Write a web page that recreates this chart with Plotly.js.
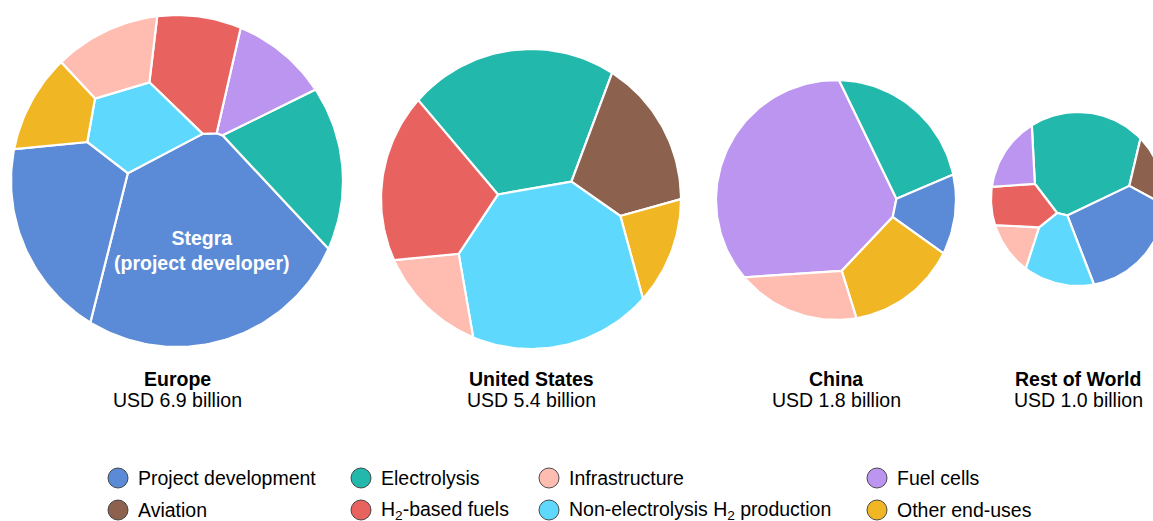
<!DOCTYPE html>
<html><head><meta charset="utf-8">
<script src="https://cdn.plot.ly/plotly-3.0.1.min.js"></script>
<style>html,body{margin:0;padding:0;background:#fff;overflow:hidden}#chart{width:1153px;height:521px}</style>
</head><body><div id="chart"></div>
<script>
// ================= DATA =================
const categories = ["Project development","Electrolysis","Infrastructure","Fuel cells","Aviation","H2-based fuels","Non-electrolysis H2 production","Other end-uses"];
const legendLabels = ["Project development","Electrolysis","Infrastructure","Fuel cells","Aviation","H<sub>2</sub>-based fuels","Non-electrolysis H<sub>2</sub> production","Other end-uses"];
const regions = ["Europe","United States","China","Rest of World"];
const regionTotals = [6.9, 5.4, 1.8, 1.0]; // USD billion

// cells of each region: category + value (USD billion)
const europeCells  = ["Project development","Project development","Electrolysis","Fuel cells","H2-based fuels","Non-electrolysis H2 production","Infrastructure","Other end-uses"];
const europeNames  = ["Stegra (project developer)","Project development","Electrolysis","Fuel cells","H2-based fuels","Non-electrolysis H2 production","Infrastructure","Other end-uses"];
const europeValues = [2.71, 1.12, 0.79, 0.43, 0.61, 0.50, 0.39, 0.35];

const usCells  = ["Electrolysis","Aviation","Other end-uses","Non-electrolysis H2 production","Infrastructure","H2-based fuels"];
const usValues = [1.44, 0.73, 0.26, 1.79, 0.27, 0.91];

const chinaCells  = ["Fuel cells","Electrolysis","Project development","Other end-uses","Infrastructure"];
const chinaValues = [1.04, 0.265, 0.12, 0.23, 0.145];

const rowCells  = ["Electrolysis","Aviation","Project development","Non-electrolysis H2 production","Infrastructure","H2-based fuels","Fuel cells"];
const rowValues = [0.355, 0.055, 0.25, 0.13, 0.045, 0.095, 0.07];

// ================= STYLE / LAYOUT =================
const colors = {
  "Project development":"#5B8BD6","Electrolysis":"#22B8AC","Infrastructure":"#FFBCB1","Fuel cells":"#BB95F0",
  "Aviation":"#8C614D","H2-based fuels":"#E8625F","Non-electrolysis H2 production":"#5ED9FD","Other end-uses":"#F0B624"
};
const FONT = "Liberation Sans, Arial, Helvetica, sans-serif";
const circles = [ {cx:177, cy:181, r:166}, {cx:531, cy:199, r:150}, {cx:836, cy:200, r:120}, {cx:1078, cy:199, r:87} ];
// site positions for the power diagram (offset from circle centre, in radius units)
const siteHints = [
  [[0.18,0.44],[-0.66,0.23],[0.74,-0.08],[0.53,-0.63],[0.10,-0.61],[-0.28,-0.33],[-0.36,-0.75],[-0.72,-0.44]],
  [[-0.07,-0.49],[0.65,-0.25],[0.81,0.29],[0.10,0.41],[-0.63,0.59],[-0.67,-0.02]],
  [[-0.27,-0.10],[0.53,-0.50],[0.77,0.10],[0.44,0.59],[-0.22,0.79]],
  [[0.0,-0.35],[0.82,-0.24],[0.46,0.37],[-0.26,0.57],[-0.72,0.49],[-0.64,0.09],[-0.72,-0.43]]
];
const labelY = [379, 400];
const legendCols = [118, 361, 549, 877];
const legendRows = [478, 510];

// ================= VORONOI TREEMAP (power diagram) =================
function clip(poly, a, b, c) {
  const out = [], n = poly.length;
  for (let k = 0; k < n; k++) {
    const P = poly[k], Q = poly[(k + 1) % n];
    const fp = a*P[0] + b*P[1] - c, fq = a*Q[0] + b*Q[1] - c;
    if (fp <= 0) out.push(P);
    if ((fp < 0 && fq > 0) || (fp > 0 && fq < 0)) {
      const t = fp / (fp - fq);
      out.push([P[0] + t*(Q[0]-P[0]), P[1] + t*(Q[1]-P[1])]);
    }
  }
  return out;
}
function areaCentroid(poly) {
  let A = 0, cx = 0, cy = 0;
  for (let k = 0; k < poly.length; k++) {
    const P = poly[k], Q = poly[(k+1) % poly.length];
    const cr = P[0]*Q[1] - Q[0]*P[1];
    A += cr; cx += (P[0]+Q[0])*cr; cy += (P[1]+Q[1])*cr;
  }
  A /= 2;
  if (Math.abs(A) < 1e-12) return {A:0, x:0, y:0};
  return {A:Math.abs(A), x:cx/(6*A), y:cy/(6*A)};
}
function powerCells(circ, sites, w) {
  return sites.map((s, i) => {
    let poly = circ;
    for (let j = 0; j < sites.length && poly.length; j++) {
      if (j === i) continue;
      const t = sites[j];
      poly = clip(poly, 2*(t[0]-s[0]), 2*(t[1]-s[1]),
        (t[0]*t[0]+t[1]*t[1]) - (s[0]*s[0]+s[1]*s[1]) + w[i] - w[j]);
    }
    return poly;
  });
}
function voronoiTreemap(values, hints) {
  const N = 256, circ = [];
  for (let k = 0; k < N; k++) { const a = 2*Math.PI*k/N; circ.push([Math.cos(a), Math.sin(a)]); }
  const tot = values.reduce((s, v) => s + v, 0);
  const target = values.map(v => v / tot * Math.PI);
  let sites = hints.map(h => [h[0], h[1]]);
  let w = values.map(() => 0);
  let cells;
  for (let it = 0; it < 2500; it++) {
    cells = powerCells(circ, sites, w);
    const ac = cells.map(areaCentroid);
    for (let i = 0; i < sites.length; i++) {
      if (ac[i].A > 0 && it < 60) {          // light relaxation only
        sites[i][0] += 0.1*(ac[i].x - sites[i][0]);
        sites[i][1] += 0.1*(ac[i].y - sites[i][1]);
      }
      w[i] += 0.25*(target[i] - ac[i].A);
    }
  }
  cells = powerCells(circ, sites, w);
  return cells;
}

// ================= BUILD TRACES =================
const regionData = [
  {cells: europeCells, values: europeValues, names: europeNames},
  {cells: usCells, values: usValues, names: usCells},
  {cells: chinaCells, values: chinaValues, names: chinaCells},
  {cells: rowCells, values: rowValues, names: rowCells}
];
const traces = [], annotations = [];
regionData.forEach((rd, ri) => {
  const C = circles[ri];
  const polys = voronoiTreemap(rd.values, siteHints[ri]);
  polys.forEach((poly, i) => {
    const xs = poly.map(p => C.cx + p[0]*C.r), ys = poly.map(p => C.cy + p[1]*C.r);
    xs.push(xs[0]); ys.push(ys[0]);
    traces.push({type:'scatter', mode:'lines', x:xs, y:ys, fill:'toself',
      fillcolor: colors[rd.cells[i]], line:{color:'#ffffff', width:2.2},
      hoverinfo:'text', text: regions[ri] + ': ' + rd.names[i] + ' – USD ' + rd.values[i] + ' billion', showlegend:false});
    if (rd.names[i].startsWith('Stegra')) {
      const c = areaCentroid(poly);
      annotations.push({x: C.cx + c.x*C.r, y: C.cy + c.y*C.r, xref:'x', yref:'y', showarrow:false,
        text:'<b>Stegra<br>(project developer)</b>', font:{family:FONT, size:19.5, color:'#ffffff'}, align:'center'});
    }
  });
  annotations.push({x:C.cx, y:labelY[0], xref:'x', yref:'y', showarrow:false, text:'<b>'+regions[ri]+'</b>',
    font:{family:FONT, size:19.5, color:'#000'}, xanchor:'center', yanchor:'middle'});
  annotations.push({x:C.cx, y:labelY[1], xref:'x', yref:'y', showarrow:false, text:'USD '+regionTotals[ri].toFixed(1)+' billion',
    font:{family:FONT, size:19.5, color:'#000'}, xanchor:'center', yanchor:'middle'});
});
// legend
const lx = [], ly = [], lc = [];
categories.forEach((cat, k) => {
  const x = legendCols[k % 4], y = legendRows[Math.floor(k / 4)];
  lx.push(x); ly.push(y); lc.push(colors[cat]);
  annotations.push({x: x + 18, y: y, xref:'x', yref:'y', showarrow:false, text: legendLabels[k],
    font:{family:FONT, size:19.5, color:'#000'}, xanchor:'left', yanchor:'middle'});
});
traces.push({type:'scatter', mode:'markers', x:lx, y:ly, hoverinfo:'skip', showlegend:false,
  marker:{size:20, color:lc, line:{color:'rgba(50,50,50,0.85)', width:1}}});

const layout = {
  width:1153, height:521, margin:{l:0, r:0, t:0, b:0},
  paper_bgcolor:'#fff', plot_bgcolor:'#fff', showlegend:false,
  xaxis:{range:[0,1153], visible:false, fixedrange:true},
  yaxis:{range:[521,0], visible:false, fixedrange:true},
  annotations: annotations, hovermode:'closest'
};
Plotly.newPlot('chart', traces, layout, {displayModeBar:false, responsive:false});
</script></body></html>
